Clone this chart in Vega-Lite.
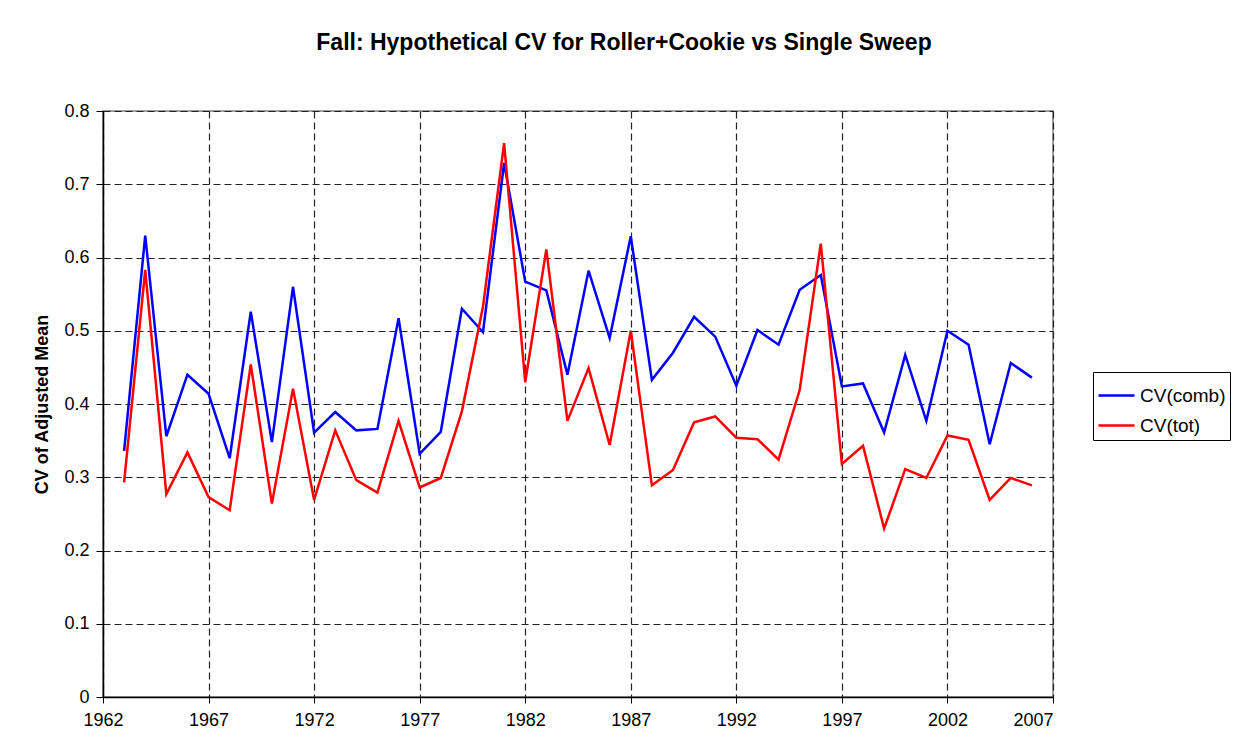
{
  "$schema": "https://vega.github.io/schema/vega-lite/v6.json",
  "autosize": {"type": "none"},
  "padding": {"left": 103, "top": 111, "right": 185, "bottom": 58},
  "width": 950,
  "height": 586,
  "background": "white",
  "title": {
    "text": "Fall: Hypothetical CV for Roller+Cookie vs Single Sweep",
    "font": "Liberation Sans",
    "fontSize": 23,
    "fontWeight": "bold",
    "color": "black",
    "anchor": "middle",
    "frame": "group",
    "dx": 46,
    "offset": 47
  },
  "config": {
    "view": {"stroke": "#808080", "strokeWidth": 1.5},
    "font": "Liberation Sans"
  },
  "data": {
    "values": [
      {"year": 1963, "series": "CV(comb)", "cv": 0.336},
      {"year": 1964, "series": "CV(comb)", "cv": 0.630},
      {"year": 1965, "series": "CV(comb)", "cv": 0.356},
      {"year": 1966, "series": "CV(comb)", "cv": 0.440},
      {"year": 1967, "series": "CV(comb)", "cv": 0.414},
      {"year": 1968, "series": "CV(comb)", "cv": 0.326},
      {"year": 1969, "series": "CV(comb)", "cv": 0.526},
      {"year": 1970, "series": "CV(comb)", "cv": 0.348},
      {"year": 1971, "series": "CV(comb)", "cv": 0.560},
      {"year": 1972, "series": "CV(comb)", "cv": 0.361},
      {"year": 1973, "series": "CV(comb)", "cv": 0.389},
      {"year": 1974, "series": "CV(comb)", "cv": 0.364},
      {"year": 1975, "series": "CV(comb)", "cv": 0.366},
      {"year": 1976, "series": "CV(comb)", "cv": 0.517},
      {"year": 1977, "series": "CV(comb)", "cv": 0.332},
      {"year": 1978, "series": "CV(comb)", "cv": 0.362},
      {"year": 1979, "series": "CV(comb)", "cv": 0.530},
      {"year": 1980, "series": "CV(comb)", "cv": 0.498},
      {"year": 1981, "series": "CV(comb)", "cv": 0.729},
      {"year": 1982, "series": "CV(comb)", "cv": 0.567},
      {"year": 1983, "series": "CV(comb)", "cv": 0.555},
      {"year": 1984, "series": "CV(comb)", "cv": 0.440},
      {"year": 1985, "series": "CV(comb)", "cv": 0.582},
      {"year": 1986, "series": "CV(comb)", "cv": 0.490},
      {"year": 1987, "series": "CV(comb)", "cv": 0.629},
      {"year": 1988, "series": "CV(comb)", "cv": 0.433},
      {"year": 1989, "series": "CV(comb)", "cv": 0.470},
      {"year": 1990, "series": "CV(comb)", "cv": 0.519},
      {"year": 1991, "series": "CV(comb)", "cv": 0.492},
      {"year": 1992, "series": "CV(comb)", "cv": 0.425},
      {"year": 1993, "series": "CV(comb)", "cv": 0.501},
      {"year": 1994, "series": "CV(comb)", "cv": 0.481},
      {"year": 1995, "series": "CV(comb)", "cv": 0.556},
      {"year": 1996, "series": "CV(comb)", "cv": 0.576},
      {"year": 1997, "series": "CV(comb)", "cv": 0.424},
      {"year": 1998, "series": "CV(comb)", "cv": 0.428},
      {"year": 1999, "series": "CV(comb)", "cv": 0.361},
      {"year": 2000, "series": "CV(comb)", "cv": 0.467},
      {"year": 2001, "series": "CV(comb)", "cv": 0.377},
      {"year": 2002, "series": "CV(comb)", "cv": 0.500},
      {"year": 2003, "series": "CV(comb)", "cv": 0.481},
      {"year": 2004, "series": "CV(comb)", "cv": 0.345},
      {"year": 2005, "series": "CV(comb)", "cv": 0.456},
      {"year": 2006, "series": "CV(comb)", "cv": 0.436},
      {"year": 1963, "series": "CV(tot)", "cv": 0.293},
      {"year": 1964, "series": "CV(tot)", "cv": 0.583},
      {"year": 1965, "series": "CV(tot)", "cv": 0.277},
      {"year": 1966, "series": "CV(tot)", "cv": 0.334},
      {"year": 1967, "series": "CV(tot)", "cv": 0.273},
      {"year": 1968, "series": "CV(tot)", "cv": 0.255},
      {"year": 1969, "series": "CV(tot)", "cv": 0.454},
      {"year": 1970, "series": "CV(tot)", "cv": 0.264},
      {"year": 1971, "series": "CV(tot)", "cv": 0.421},
      {"year": 1972, "series": "CV(tot)", "cv": 0.269},
      {"year": 1973, "series": "CV(tot)", "cv": 0.364},
      {"year": 1974, "series": "CV(tot)", "cv": 0.296},
      {"year": 1975, "series": "CV(tot)", "cv": 0.279},
      {"year": 1976, "series": "CV(tot)", "cv": 0.377},
      {"year": 1977, "series": "CV(tot)", "cv": 0.286},
      {"year": 1978, "series": "CV(tot)", "cv": 0.299},
      {"year": 1979, "series": "CV(tot)", "cv": 0.390},
      {"year": 1980, "series": "CV(tot)", "cv": 0.533},
      {"year": 1981, "series": "CV(tot)", "cv": 0.756},
      {"year": 1982, "series": "CV(tot)", "cv": 0.430},
      {"year": 1983, "series": "CV(tot)", "cv": 0.611},
      {"year": 1984, "series": "CV(tot)", "cv": 0.377},
      {"year": 1985, "series": "CV(tot)", "cv": 0.449},
      {"year": 1986, "series": "CV(tot)", "cv": 0.344},
      {"year": 1987, "series": "CV(tot)", "cv": 0.500},
      {"year": 1988, "series": "CV(tot)", "cv": 0.289},
      {"year": 1989, "series": "CV(tot)", "cv": 0.310},
      {"year": 1990, "series": "CV(tot)", "cv": 0.375},
      {"year": 1991, "series": "CV(tot)", "cv": 0.383},
      {"year": 1992, "series": "CV(tot)", "cv": 0.354},
      {"year": 1993, "series": "CV(tot)", "cv": 0.352},
      {"year": 1994, "series": "CV(tot)", "cv": 0.324},
      {"year": 1995, "series": "CV(tot)", "cv": 0.419},
      {"year": 1996, "series": "CV(tot)", "cv": 0.619},
      {"year": 1997, "series": "CV(tot)", "cv": 0.318},
      {"year": 1998, "series": "CV(tot)", "cv": 0.343},
      {"year": 1999, "series": "CV(tot)", "cv": 0.230},
      {"year": 2000, "series": "CV(tot)", "cv": 0.311},
      {"year": 2001, "series": "CV(tot)", "cv": 0.299},
      {"year": 2002, "series": "CV(tot)", "cv": 0.357},
      {"year": 2003, "series": "CV(tot)", "cv": 0.351},
      {"year": 2004, "series": "CV(tot)", "cv": 0.269},
      {"year": 2005, "series": "CV(tot)", "cv": 0.299},
      {"year": 2006, "series": "CV(tot)", "cv": 0.289}
    ]
  },
  "mark": {"type": "line", "strokeWidth": 2.5},
  "encoding": {
    "x": {
      "field": "year",
      "type": "quantitative",
      "scale": {"domain": [1962, 2007], "nice": false, "zero": false},
      "axis": {
        "title": null,
        "values": [1962, 1967, 1972, 1977, 1982, 1987, 1992, 1997, 2002, 2007],
        "format": "d",
        "labelFontSize": 18,
        "labelColor": "black",
        "labelPadding": 8,
        "labelFlush": false,
        "labelAlign": {"condition": {"test": "datum.value == 2007", "value": "right"}, "value": "center"},
        "tickColor": "black",
        "tickSize": 6,
        "domainColor": "black",
        "domainWidth": 1.5,
        "grid": true,
        "gridColor": "#222222",
        "gridDash": [7, 4],
        "gridWidth": 1.2
      }
    },
    "y": {
      "field": "cv",
      "type": "quantitative",
      "scale": {"domain": [0, 0.8], "nice": false},
      "axis": {
        "title": "CV of Adjusted Mean",
        "titleFontSize": 18,
        "titleFontWeight": "bold",
        "titleColor": "black",
        "titlePadding": 12,
        "values": [0, 0.1, 0.2, 0.3, 0.4, 0.5, 0.6, 0.7, 0.8],
        "format": ".1~f",
        "labelFontSize": 18,
        "labelColor": "black",
        "labelPadding": 7,
        "tickColor": "black",
        "tickSize": 7,
        "domainColor": "black",
        "domainWidth": 1.5,
        "grid": true,
        "gridColor": "#222222",
        "gridDash": [7, 4],
        "gridWidth": 1.2
      }
    },
    "color": {
      "field": "series",
      "type": "nominal",
      "scale": {"domain": ["CV(comb)", "CV(tot)"], "range": ["#0000FF", "#FF0000"]},
      "legend": {
        "title": null,
        "orient": "none",
        "legendX": 990,
        "legendY": 261,
        "strokeColor": "black",
        "fillColor": "white",
        "padding": 4,
        "symbolType": "stroke",
        "symbolSize": 1300,
        "symbolStrokeWidth": 2.5,
        "labelFontSize": 19,
        "labelOffset": 4,
        "labelColor": "black",
        "rowPadding": -2
      }
    }
  }
}
